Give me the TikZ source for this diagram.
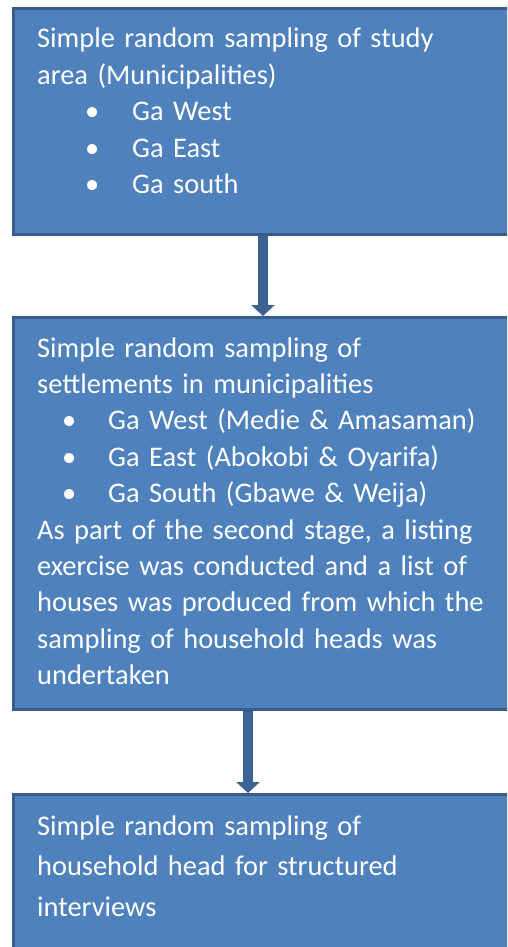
\documentclass[tikz,border=0pt]{standalone}
\usepackage{fontspec}
\setmainfont{Carlito}
\usetikzlibrary{arrows.meta,calc}
\definecolor{boxfill}{HTML}{4F81BD}
\definecolor{boxline}{HTML}{385D8A}
\definecolor{arrowcol}{HTML}{3C6292}
\tikzset{
  stagebox/.style={draw=boxline, line width=3pt, fill=boxfill, anchor=north west, inner sep=0pt},
  boxtext/.style={anchor=base west, inner sep=0pt, text=white, text width=480pt, align=left,
    font=\fontsize{28.4}{36.4}\selectfont},
  flowarrow/.style={draw=arrowcol, line width=10pt, -{Triangle[width=23pt,length=11pt]}}
}
\newcommand{\bitem}[3]{\hspace*{#1}\makebox[#2][l]{\textbullet}#3}
\begin{document}
\begin{tikzpicture}[x=1pt,y=-1pt]
\useasboundingbox (0,0) rectangle (507,947);
\clip (0,0) rectangle (507,947);
\node[stagebox, minimum width=520pt, minimum height=226pt] (b1) at (12,7) {};
\node[stagebox, minimum width=520pt, minimum height=392pt] (b2) at (12,316) {};
\node[stagebox, minimum width=520pt, minimum height=200pt] (b3) at (12,793) {};
\node[boxtext] (t1) at (37,48) {Simple random sampling of study\\ area (Municipalities)\\
\bitem{48pt}{47pt}{Ga West}\\
\bitem{48pt}{47pt}{Ga East}\\
\bitem{48pt}{47pt}{Ga south}};
\node[boxtext] (t2) at (37,357) {Simple random sampling of\\ settlements in municipalities\\
\bitem{25pt}{46pt}{Ga West (Medie \& Amasaman)}\\
\bitem{25pt}{46pt}{Ga East (Abokobi \& Oyarifa)}\\
\bitem{25pt}{46pt}{Ga South (Gbawe \& Weija)}\\
As part of the second stage, a listing\\ exercise was conducted and a list of\\ houses was produced from which the\\ sampling of household heads was\\ undertaken};
\node[boxtext, font=\fontsize{28.4}{40.5}\selectfont] (t3) at (37,835) {Simple random sampling of\\ household head for structured\\ interviews};
\coordinate (a1) at ($(b1.south west)+(251,0)$);
\coordinate (a2) at ($(b2.south west)+(236,0)$);
\draw[flowarrow] (a1) -- (a1 |- b2.north);
\draw[flowarrow] (a2) -- (a2 |- b3.north);
\end{tikzpicture}
\end{document}
